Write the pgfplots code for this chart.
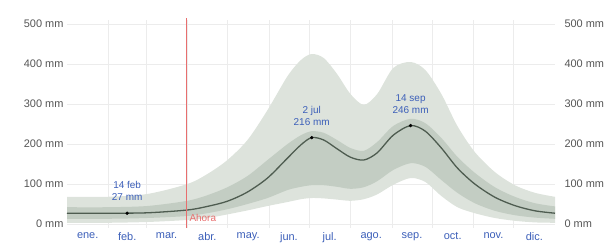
\documentclass[border=0pt]{standalone}
\usepackage{pgfplots}
\pgfplotsset{compat=1.18}
\usepackage{pgfplotstable}
\usepgfplotslibrary{fillbetween}
\usepackage{fontspec}
\setmainfont{Liberation Sans}
\definecolor{outerband}{RGB}{221,227,220}
\definecolor{innerband}{RGB}{195,205,195}
\definecolor{meanline}{RGB}{78,92,80}
\definecolor{annot}{RGB}{60,95,185}
\definecolor{tickgray}{RGB}{85,85,85}
\definecolor{nowred}{RGB}{232,110,110}
\definecolor{gridc}{RGB}{236,236,236}
\pgfplotstableread{
day olo ilo mean ihi ohi
0   3   13  27  42  68
30  3   13  27  42  68
60  5   15  28  45  75
90  10  20  35  58  100
105 15  27  44  72  125
120 24  37  57  92  160
135 34  50  80  120 210
150 45  65  115 160 285
165 55  85  165 200 370
175 62  93  198 222 410
183 65  97  216 232 425
192 64  97  210 228 415
202 61  93  188 210 375
212 58  88  167 190 325
222 62  92  160 183 298
232 74  107 178 205 325
244 98  135 222 245 390
257 115 152 246 263 405
268 105 143 232 252 385
280 70  110 190 215 325
292 42  78  140 168 245
305 27  52  100 128 180
320 15  33  67  92  130
335 8   22  46  68  97
350 4   16  33  52  78
365 3   13  27  44  68
}\rain
\begin{document}
\begin{tikzpicture}
\path (-67bp,-17bp) rectangle (546bp,228bp);
\begin{axis}[
  scale only axis, width=488bp, height=208bp,
  xmin=0, xmax=365, ymin=-10, ymax=510,
  axis line style={draw=none},
  xtick={15.5,45,74.5,105,135.5,166,196.5,227.5,258,288.5,319,349.5},
  xticklabels={ene.,feb.,mar.,abr.,may.,jun.,jul.,ago.,sep.,oct.,nov.,dic.},
  minor xtick={31,59,90,120,151,181,212,243,273,304,334},
  xminorgrids, 
  ytick={0,100,200,300,400,500},
  yticklabels={0 mm,100 mm,200 mm,300 mm,400 mm,500 mm},
  ymajorgrids,
  major tick length=0pt, minor tick length=0pt,
  grid style={gridc, line width=0.6pt},
  minor grid style={gridc, line width=0.6pt},
  x tick label style={font=\fontsize{11}{12}\selectfont, text=annot, yshift=-1bp},
  y tick label style={font=\fontsize{11}{12}\selectfont, text=tickgray},
  yticklabel pos=left,
  /pgf/number format/assume math mode=true,
  clip=false,
]
\addplot[name path=ohi, draw=none, smooth] table[x=day,y=ohi]{\rain};
\addplot[name path=olo, draw=none, smooth] table[x=day,y=olo]{\rain};
\addplot[outerband] fill between[of=ohi and olo];
\addplot[name path=ihi, draw=none, smooth] table[x=day,y=ihi]{\rain};
\addplot[name path=ilo, draw=none, smooth] table[x=day,y=ilo]{\rain};
\addplot[innerband] fill between[of=ihi and ilo];
\addplot[meanline, line width=1.3pt, smooth] table[x=day,y=mean]{\rain};
\addplot[only marks, mark=*, mark size=1.5pt, black] coordinates {(45,27) (183,216) (257,246)};
\addplot[nowred, line width=0.8pt] coordinates {(89,-10) (89,515)};
\node[anchor=west, text=nowred, font=\fontsize{10}{11}\selectfont] at (axis cs:89,15) {Ahora};
\node[align=center, text=annot, font=\fontsize{10}{12}\selectfont] at (axis cs:45,82) {14 feb\\27 mm};
\node[align=center, text=annot, font=\fontsize{10}{12}\selectfont] at (axis cs:183,270) {2 jul\\216 mm};
\node[align=center, text=annot, font=\fontsize{10}{12}\selectfont] at (axis cs:257,300) {14 sep\\246 mm};
\end{axis}
\begin{axis}[
  scale only axis, width=488bp, height=208bp,
  xmin=0, xmax=365, ymin=-10, ymax=510,
  axis line style={draw=none},
  xtick={0},xticklabels={},
  ytick={0,100,200,300,400,500},
  yticklabels={0 mm,100 mm,200 mm,300 mm,400 mm,500 mm},
  major tick length=0pt,
  yticklabel pos=right,
  y tick label style={font=\fontsize{11}{12}\selectfont, text=tickgray, xshift=6bp},
]
\addplot[draw=none] table[x=day,y=mean]{\rain};
\end{axis}
\end{tikzpicture}
\end{document}
